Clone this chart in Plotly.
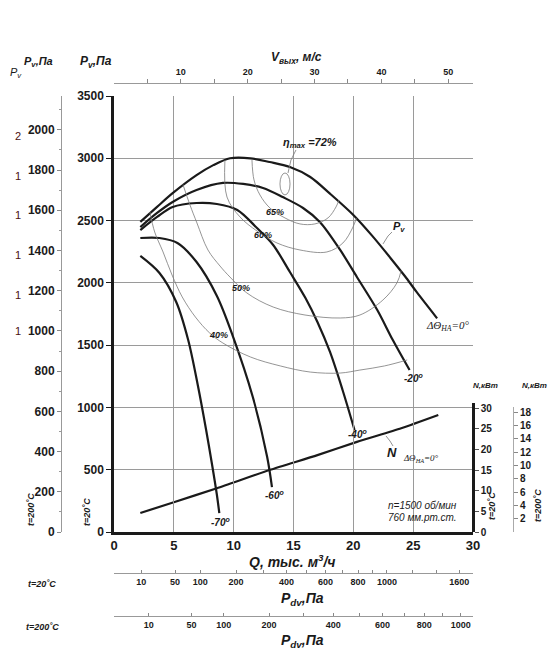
import plotly.graph_objects as go

# browser page has an 8 px body margin: the figure is sized/positioned so that
# page pixel (x, y) of the reference maps onto paper coordinates below
OFF = 8
W, H = 558 - OFF, 651 - OFF
def px(x): return (x - OFF) / W
def py(y): return 1 - (y - OFF) / H

# ---------------- data ----------------
# Pressure curves Pv (Pa) vs Q (thous. m3/h) for guide-vane angles
q_0 = [2.2, 3.6, 4.9, 6.9, 8.3, 9.7, 11.4, 13.0, 14.7, 16.4, 18.0, 20.0, 21.6, 23.1, 24.3, 25.3, 27.0]
p_0 = [2490, 2610, 2720, 2865, 2945, 3000, 3000, 2970, 2930, 2850, 2720, 2545, 2375, 2200, 2055, 1925, 1715]

q_m20 = [2.2, 3.6, 4.9, 6.9, 9.1, 10.8, 12.45, 14.1, 15.8, 17.2, 18.9, 20.3, 22.0, 23.3, 24.7]
p_m20 = [2448, 2561, 2649, 2745, 2802, 2794, 2762, 2689, 2601, 2489, 2264, 2047, 1782, 1541, 1300]

q_m40 = [2.2, 3.6, 4.9, 6.9, 8.6, 10.3, 11.95, 13.3, 14.7, 16.0, 17.0, 18.05, 19.1, 20.1]
p_m40 = [2424, 2529, 2609, 2641, 2633, 2585, 2440, 2304, 2087, 1878, 1686, 1445, 1140, 819]

q_m60 = [2.2, 3.8, 5.3, 6.9, 8.6, 9.9, 11.6, 12.8, 13.2]
p_m60 = [2360, 2360, 2320, 2167, 1895, 1581, 1084, 602, 361]

q_m70 = [2.2, 3.8, 5.2, 6.2, 7.0, 7.7, 8.2, 8.6, 8.8]
p_m70 = [2216, 2079, 1846, 1541, 1180, 819, 538, 297, 152]

# Power N (kW) at dTheta = 0
q_n = [2.2, 5.0, 8.6, 13.0, 17.0, 20.3, 24.0, 27.1]
n_kw = [4.6, 7.2, 10.6, 15.0, 18.6, 21.8, 25.1, 28.3]

# Efficiency iso-lines
q_e40 = [3.0, 3.4, 4.1, 4.85, 5.7, 6.8, 8.0, 9.1, 11.4, 13.9, 16.4, 18.9, 20.55, 22.6, 24.5]
p_e40 = [2569, 2408, 2248, 2063, 1887, 1726, 1597, 1517, 1405, 1333, 1284, 1276, 1300, 1333, 1381]
q_e50 = [5.76, 6.35, 6.93, 7.85, 8.86, 9.69, 11.1, 13.3, 15.96, 18.9, 20.55, 22.47, 23.64, 24.0]
p_e50 = [2790, 2625, 2481, 2264, 2135, 2047, 1919, 1806, 1742, 1718, 1742, 1862, 1999, 2100]
q_e60 = [9.27, 9.44, 10.53, 11.95, 13.62, 15.54, 17.79, 19.13, 19.97, 20.25]
p_e60 = [2986, 2689, 2529, 2416, 2320, 2264, 2248, 2320, 2448, 2520]
q_e65 = [11.53, 11.7, 12.2, 13.03, 14.29, 15.54, 16.79, 17.88, 18.55, 18.8]
p_e65 = [2986, 2826, 2705, 2601, 2521, 2473, 2473, 2521, 2609, 2665]
eta_max_q, eta_max_p = 14.29, 2794          # centre of 72 % island
eta_max_dq, eta_max_dp = 0.42, 88

# axis tick values
v_ticks = [5, 10, 15, 20, 25, 30, 35, 40, 45, 50]
v_labels = ["", "10", "", "20", "", "30", "", "40", "", "50"]
pdv20_ticks = [10, 50, 100, 200, 300, 400, 500, 600, 700, 800, 900, 1000, 1200, 1400, 1600, 1800]
pdv20_labels = ["10", "50", "100", "200", "", "400", "", "600", "", "800", "", "1000", "", "", "1600", ""]
pdv200_ticks = [10, 50, 100, 200, 300, 400, 500, 600, 700, 800, 900, 1000, 1100]
pdv200_labels = ["10", "50", "100", "200", "", "400", "", "600", "", "800", "", "1000", ""]
n20_ticks = [0, 5, 10, 15, 20, 25, 30]
n200_ticks = [2, 4, 6, 8, 10, 12, 14, 16, 18]

# physical scale relations
K_V = 1.79                # m/s per thous. m3/h at outlet
RHO20 = 1.2
RHO200 = 1.2 * 293 / 473
Q_MAX, P_MAX = 30, 3500

def q_from_pdv(p, rho):
    return (2 * p / rho) ** 0.5 / K_V

FONT = "Liberation Sans"
INK = "#1a1a1a"
GRID = "#9a9a9a"

fig = go.Figure()

curve_style = dict(color=INK, width=2.2, shape="spline", smoothing=0.9)
for q, p in [(q_0, p_0), (q_m20, p_m20), (q_m40, p_m40), (q_m60, p_m60), (q_m70, p_m70)]:
    fig.add_trace(go.Scatter(x=q, y=p, mode="lines", line=curve_style,
                             xaxis="x", yaxis="y", showlegend=False, hoverinfo="skip"))

eff_style = dict(color="#7a7a7a", width=0.8, shape="spline", smoothing=1.0)
for q, p in [(q_e40, p_e40), (q_e50, p_e50), (q_e60, p_e60), (q_e65, p_e65)]:
    fig.add_trace(go.Scatter(x=q, y=p, mode="lines", line=eff_style,
                             xaxis="x", yaxis="y", showlegend=False, hoverinfo="skip"))

fig.add_trace(go.Scatter(x=q_n, y=n_kw, mode="lines",
                         line=dict(color=INK, width=2.2, shape="spline", smoothing=0.6),
                         xaxis="x", yaxis="y3", showlegend=False, hoverinfo="skip"))

# dummy traces so that auxiliary axes are drawn
for xa, ya in [("x2", "y"), ("x3", "y"), ("x4", "y"), ("x", "y2"), ("x", "y4")]:
    fig.add_trace(go.Scatter(x=[None], y=[None], mode="lines", xaxis=xa, yaxis=ya,
                             showlegend=False, hoverinfo="skip"))

tick_b = lambda s: dict(family=FONT, size=s, color=INK, weight="bold")

fig.update_layout(
    width=W, height=H, autosize=False,
    margin=dict(l=0, r=0, t=0, b=0, autoexpand=False),
    paper_bgcolor="white", plot_bgcolor="rgba(0,0,0,0)",
    font=dict(family=FONT, color=INK),
    xaxis=dict(domain=[px(114), px(473)], range=[0, Q_MAX], dtick=5, tick0=0,
               showgrid=True, gridcolor=GRID, gridwidth=1, zeroline=False,
               showline=True, linecolor=INK, linewidth=2.5, ticks="",
               tickfont=tick_b(13), anchor="y", automargin=False),
    yaxis=dict(domain=[py(532), py(96)], range=[0, P_MAX], dtick=500, tick0=0,
               showgrid=True, gridcolor=GRID, gridwidth=1, zeroline=False,
               showline=True, linecolor=INK, linewidth=2.5, ticks="outside",
               ticklen=5, tickcolor=INK, tickfont=tick_b(12), anchor="x",
               automargin=False),
    xaxis2=dict(overlaying="x", side="top", anchor="free", position=py(83),
                range=[0, Q_MAX * K_V], tickvals=v_ticks, ticktext=v_labels,
                ticks="outside", ticklen=4, tickcolor="#888", showline=True,
                linecolor="#999", linewidth=1, showgrid=False, zeroline=False,
                tickfont=tick_b(9), automargin=False),
    xaxis3=dict(overlaying="x", side="bottom", anchor="free", position=py(573),
                range=[0, Q_MAX], tickvals=[q_from_pdv(v, RHO20) for v in pdv20_ticks],
                ticktext=pdv20_labels, ticks="inside", ticklen=3, tickcolor="#888",
                showline=True, linecolor="#999", linewidth=1, showgrid=False,
                zeroline=False, tickfont=tick_b(9), automargin=False),
    xaxis4=dict(overlaying="x", side="bottom", anchor="free", position=py(616),
                range=[0, Q_MAX], tickvals=[q_from_pdv(v, RHO200) for v in pdv200_ticks],
                ticktext=pdv200_labels, ticks="inside", ticklen=3, tickcolor="#888",
                showline=True, linecolor="#999", linewidth=1, showgrid=False,
                zeroline=False, tickfont=tick_b(9), automargin=False),
    yaxis2=dict(overlaying="y", side="left", anchor="free", position=px(61),
                range=[0, P_MAX * 293 / 473], dtick=200, tick0=0,
                ticks="outside", ticklen=4, tickcolor="#888",
                minor=dict(dtick=100, ticks="outside", ticklen=2, tickcolor="#999"),
                showline=True, linecolor="#999", linewidth=1, showgrid=False,
                zeroline=False, tickfont=tick_b(12), automargin=False),
    yaxis3=dict(domain=[py(532), py(403)], anchor="free", position=px(473), side="right",
                range=[0, (532 - 403) / 4.133], tickvals=n20_ticks,
                ticks="outside", ticklen=4, tickcolor="#555",
                showline=True, linecolor=INK, linewidth=2.5, showgrid=False,
                zeroline=False, tickfont=tick_b(10), automargin=False),
    yaxis4=dict(domain=[py(532), py(407)], anchor="free", position=px(513), side="right",
                range=[0, (532 - 407) / 6.65], tickvals=n200_ticks,
                ticks="outside", ticklen=4, tickcolor="#888",
                showline=True, linecolor="#aaa", linewidth=1, showgrid=False,
                zeroline=False, tickfont=tick_b(10), automargin=False),
)

# 72 % efficiency island
fig.add_shape(type="circle", xref="x", yref="y",
              x0=eta_max_q - eta_max_dq, x1=eta_max_q + eta_max_dq,
              y0=eta_max_p - eta_max_dp, y1=eta_max_p + eta_max_dp,
              line=dict(color="#7a7a7a", width=0.8))

# leader lines (paper coords)
def leader(pts):
    d = "M " + " L ".join(f"{px(a):.4f},{py(b):.4f}" for a, b in pts)
    fig.add_shape(type="path", xref="paper", yref="paper", path=d,
                  line=dict(color="#777", width=0.8))

leader([(288, 173), (291, 160), (296, 150)])
leader([(383, 244), (388, 236), (392, 232)])
leader([(386, 436), (390, 441), (393, 446)])

def ann(text, x, y, size=10, angle=0, color=INK, family=FONT, xanchor="center"):
    fig.add_annotation(text=text, x=px(x), y=py(y), xref="paper", yref="paper",
                       showarrow=False, textangle=angle, xanchor=xanchor, yanchor="middle",
                       font=dict(family=family, size=size, color=color))

BI = lambda s: f"<b><i>{s}</i></b>"

ann(BI("η<sub>max</sub> =72%"), 310, 143, 11)
ann(BI("65%"), 275, 212, 9)
ann(BI("60%"), 263, 235, 9)
ann(BI("50%"), 241, 288, 9)
ann(BI("40%"), 218, 335, 9)
ann(BI("P<sub>v</sub>"), 399, 227, 11)
ann("<i>ΔΘ<sub>НА</sub>=0°</i>", 447, 326, 11, family="Liberation Serif")
ann(BI("-20<sup>o</sup>"), 413, 378, 10)
ann(BI("-40<sup>o</sup>"), 357, 434, 10)
ann(BI("-60<sup>o</sup>"), 274, 495, 10)
ann(BI("-70<sup>o</sup>"), 220, 522, 10)
ann(BI("N"), 392, 452, 13)
ann("<i>ΔΘ<sub>НА</sub>=0°</i>", 421, 458, 9, family="Liberation Serif")
ann("<i>n=1500 об/мин</i>", 422, 505, 10)
ann("<i>760 мм.рт.ст.</i>", 422, 517, 10)
ann(BI("N,кВт"), 485, 385, 8)
ann(BI("N,кВт"), 534, 385, 8)
ann(BI("t=20˚C"), 492, 506, 9, angle=-90)
ann(BI("t=200˚C"), 538, 506, 9, angle=-90)
ann(BI("t=200˚C"), 31, 510, 9, angle=-90)
ann(BI("t=20˚C"), 87, 512, 9, angle=-90)
ann(BI("P<sub>v</sub>,Па"), 96, 62, 12)
ann(BI("P<sub>v</sub>,Па"), 38, 62, 11)
ann("<i>P<sub>v</sub></i>", 8, 73, 11, xanchor="left")
for yy, t in [(136, "2"), (176, "1"), (215, "1"), (255, "1"), (295, "1"), (331, "1")]:
    ann(t, 18, yy, 11, color="#4a1010")
ann(BI("V<sub>вых</sub>, м/с"), 296, 58, 12)
ann(BI("Q, тыс. м<sup>3</sup>/ч"), 292, 561, 14)
ann(BI("t=20˚C"), 42, 584, 9)
ann(BI("P<sub>dv</sub>,Па"), 302, 599, 14)
ann(BI("t=200˚C"), 42, 627, 9)
ann(BI("P<sub>dv</sub>,Па"), 302, 641, 14)

fig.write_html("out.html")
